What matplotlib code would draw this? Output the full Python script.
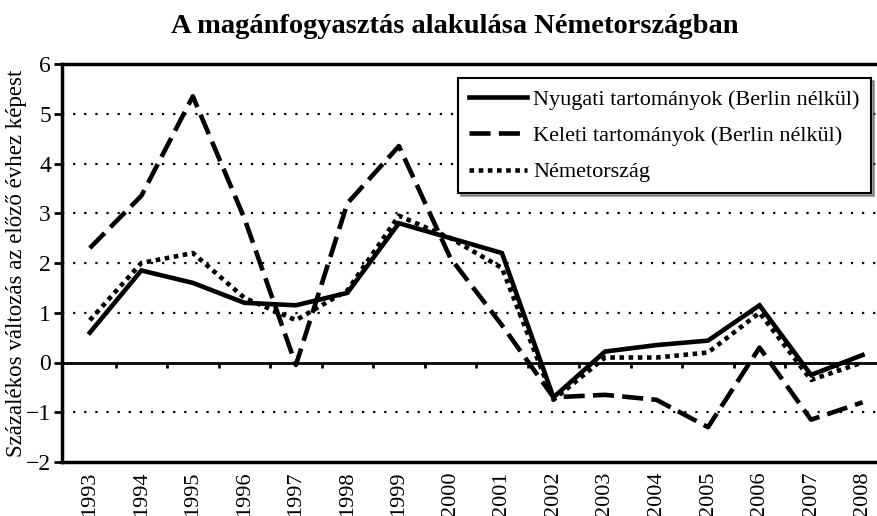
import matplotlib

matplotlib.use("Agg")
import matplotlib.pyplot as plt
import numpy as np

years = [str(y) for y in range(1993, 2009)]
nyugati = [0.6, 1.85, 1.6, 1.2, 1.15, 1.4, 2.8, 2.5, 2.2, -0.7, 0.22, 0.35, 0.44, 1.15, -0.25, 0.15]
keleti = [2.3, 3.35, 5.35, 2.9, -0.05, 3.2, 4.35, 2.1, 0.75, -0.7, -0.65, -0.75, -1.3, 0.3, -1.15, -0.8]
nemet = [0.85, 2.0, 2.2, 1.3, 0.85, 1.45, 2.95, 2.5, 1.9, -0.75, 0.1, 0.1, 0.2, 1.0, -0.35, 0.0]
labels = [
    "Nyugati tartományok (Berlin nélkül)",
    "Keleti tartományok (Berlin nélkül)",
    "Németország",
]

plt.rcParams["font.family"] = ["Liberation Serif", "DejaVu Serif"]

fig = plt.figure(figsize=(8.78, 5.16), dpi=100)
ax = fig.add_axes([62 / 878, 54 / 516, 816 / 878, 398 / 516])

x = np.arange(len(years))
ax.plot(x, nyugati, color="black", lw=3.3, solid_joinstyle="miter", label=labels[0])
ax.plot(x, keleti, color="black", lw=3.3, dashes=(4.6, 1.8), label=labels[1])
ax.plot(x, nemet, color="black", lw=3.3, dashes=(1, 1), label=labels[2])

for v in [-1, 1, 2, 3, 4, 5]:
    ax.axhline(v, color="black", lw=1.6, linestyle=(0, (1, 4)), zorder=0)
ax.axhline(0, color="black", lw=2.0, zorder=1)
ax.vlines(x[:-1] + 0.5, -0.12, 0, color="black", lw=2.0)

ax.set_xlim(-0.54, 15.3)
ax.set_ylim(-2, 6)
ax.set_yticks(range(-2, 7))
ax.set_yticklabels([str(v).replace("-", "\u2212") for v in range(-2, 7)], fontsize=17)
ax.set_xticks(x)
ax.set_xticklabels(years, rotation=90, fontsize=16)
ax.tick_params(axis="x", length=0, pad=7)
ax.tick_params(axis="y", length=6, width=2, direction="out", pad=2)

for side in ["left", "top", "bottom"]:
    ax.spines[side].set_linewidth(2.5)
ax.spines["right"].set_visible(False)

ax.set_ylabel("Százalékos változás az előző évhez képest", fontsize=16.5)
ax.yaxis.set_label_coords(-0.043, 0.5)
fig.text(0.518, 0.948, "A magánfogyasztás alakulása Németországban",
         ha="center", va="center", fontsize=20.5, fontweight="bold")

leg = ax.legend(loc="upper right", bbox_to_anchor=(0.997, 0.975), fontsize=16,
                frameon=True, fancybox=False, shadow=True, edgecolor="black",
                handlelength=2.6, handletextpad=0.3, borderpad=0.5, labelspacing=0.7,
                borderaxespad=0.2)
leg.get_frame().set_linewidth(1.5)

fig.savefig("out.png", dpi=100)
